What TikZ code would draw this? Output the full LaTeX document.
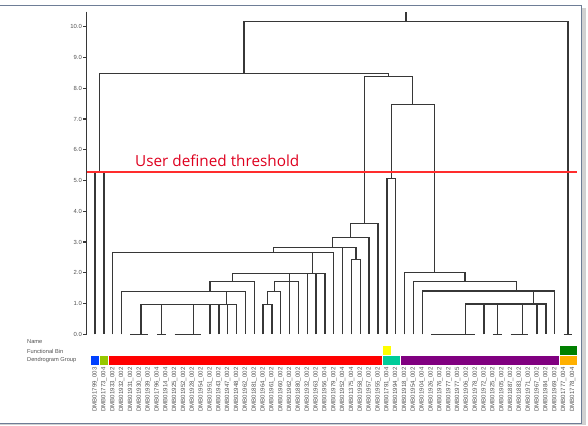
\documentclass[tikz,border=0pt]{standalone}
\usepackage{fontspec}
\setmainfont{Liberation Sans}
\newfontfamily\thrfont{Open Sans}
\definecolor{dgray}{RGB}{55,55,55}
\definecolor{thrred}{RGB}{255,45,45}
\definecolor{thrtext}{RGB}{222,0,30}
\definecolor{cblue}{RGB}{0,64,255}
\definecolor{cgreenl}{RGB}{150,200,0}
\definecolor{cred}{RGB}{255,0,0}
\definecolor{cteal}{RGB}{0,204,153}
\definecolor{cpurple}{RGB}{128,0,128}
\definecolor{corange}{RGB}{255,176,0}
\definecolor{cyellow}{RGB}{255,255,0}
\definecolor{cdgreen}{RGB}{0,128,0}
\definecolor{labgray}{RGB}{80,80,80}
\definecolor{framec}{RGB}{110,125,150}
\begin{document}
\begin{tikzpicture}[x=1pt,y=-1pt,
  dl/.style={draw=dgray,line width=1.35pt},
  axisline/.style={draw=dgray,line width=1.1pt},
  ticklab/.style={text=labgray,font=\fontsize{5.9}{6}\selectfont,inner sep=0pt},
  rowlab/.style={text=labgray,font=\fontsize{5.7}{6}\selectfont,inner sep=0pt,anchor=west},
  leaflab/.style={text=labgray,font=\fontsize{6.1}{6}\selectfont,inner sep=0pt,rotate=90,anchor=east},
  cell/.style={draw=white,line width=0.6pt}]
\useasboundingbox (0,0) rectangle (588,425);
% frame
\fill[black!18] (581,8) rectangle (586,425);
\fill[black!18] (0,423) rectangle (586,425);
\draw[framec,line width=1pt] (-2,5.7) -- (581,5.7) -- (581,423) -- (-2,423);
% leaf coordinates
\foreach \i in {1,...,55} { \coordinate (L\i) at ({86.28+8.84*\i},334.3); }
% levels
\coordinate (hA) at (0,304.3);
\coordinate (hB) at (0,291.7);
\coordinate (hC) at (0,281.7);
\coordinate (hD) at (0,273.3);
\coordinate (hE) at (0,252.7);
\coordinate (hF) at (0,247.3);
\coordinate (hG) at (0,237.7);
\coordinate (hH) at (0,223.3);
\coordinate (hI) at (0,76.7);
\coordinate (hJ) at (0,73.3);
\coordinate (hK) at (0,21.7);
\coordinate (hT) at (0,12.3);
\coordinate (b12) at (0,172.3);
\coordinate (b3031) at (0,259.3);
\coordinate (b3435) at (0,178.3);
\coordinate (hL) at (0,104.3);
\coordinate (hM) at (0,272.7);
\coordinate (hN) at (0,281.7);
\coordinate (hO) at (0,291);
\coordinate (hP) at (0,304);
% zero-height group centres
\coordinate (G1) at (141,334.3);
\coordinate (G2) at (161.4,334.3);
\coordinate (G3) at (193.3,334.3);
\coordinate (G4) at (465.7,334.3);
\coordinate (G5) at (497.3,334.3);
\coordinate (G6) at (522.3,334.3);
\coordinate (G7) at (568.06,334.3);
% zero-height bars
\draw[dl] (L5) -- (L7);
\draw[dl] (L8) -- (L9);
\draw[dl] (L10) -- (L13);
\draw[dl] (L39) -- (L44);
\draw[dl] (L46) -- (L47);
\draw[dl] (L48) -- (L50);
\draw[dl] (L54) -- (L55);
% left low cluster
\draw[dl] (G1) -- (G1 |- hA) -- (L17 |- hA) -- (L17);
\foreach \c in {G2,G3,L14,L15,L16} { \draw[dl] (\c) -- (\c |- hA); }
\coordinate (sA) at (226.7,0);
\draw[dl] (sA |- hA) -- (sA |- hB);
\draw[dl] (L4) -- (L4 |- hB) -- (L18 |- hB) -- (L18);
\coordinate (sB) at (210,0);
\draw[dl] (sB |- hB) -- (sB |- hC) -- (L19 |- hC) -- (L19);
\coordinate (sC) at (232.5,0);
\draw[dl] (sC |- hC) -- (sC |- hD) -- (L27 |- hD) -- (L27);
\foreach \c in {L23,L25,L26} { \draw[dl] (\c) -- (\c |- hD); }
\draw[dl] (L20) -- (L20 |- hA) -- (L21 |- hA) -- (L21);
\coordinate (s2021) at (267.5,0);
\draw[dl] (s2021 |- hA) -- (s2021 |- hB) -- (L22 |- hB) -- (L22);
\coordinate (s22) at (274.3,0);
\draw[dl] (s22 |- hB) -- (s22 |- hC) -- (L24 |- hC) -- (L24);
\coordinate (sD) at (312.7,0);
\draw[dl] (sD |- hD) -- (sD |- hE);
\draw[dl] (L3) -- (L3 |- hE) -- (L28 |- hE) -- (L28);
\coordinate (sE) at (273.3,0);
\coordinate (s3031) at (355.9,0);
\draw[dl] (sE |- hE) -- (sE |- hF) -- (s3031 |- hF) -- (s3031 |- b3031);
\draw[dl] (L29) -- (L29 |- hF);
\draw[dl] (L30) -- (L30 |- b3031) -- (L31 |- b3031) -- (L31);
\coordinate (sF) at (332.3,0);
\draw[dl] (sF |- hF) -- (sF |- hG) -- (L32 |- hG) -- (L32);
\coordinate (sG) at (350.7,0);
\draw[dl] (sG |- hG) -- (sG |- hH) -- (L33 |- hH) -- (L33);
\coordinate (sH) at (364.3,0);
\coordinate (sL) at (412.7,0);
\draw[dl] (sH |- hH) -- (sH |- hI) -- (sL |- hI) -- (sL |- hL);
\coordinate (s12) at (99.54,0);
\coordinate (sI) at (388.5,0);
\draw[dl] (sI |- hI) -- (sI |- hJ) -- (s12 |- hJ) -- (s12 |- b12);
\draw[dl] (L1) -- (L1 |- b12) -- (L2 |- b12) -- (L2);
% root
\coordinate (sJ) at (244,0);
\coordinate (sR) at (406,0);
\draw[dl] (sJ |- hJ) -- (sJ |- hK) -- (G7 |- hK) -- (G7);
\draw[dl] (sR |- hK) -- (sR |- hT);
% right branch
\coordinate (s3435) at (391.26,0);
\coordinate (sM) at (434.3,0);
\draw[dl] (s3435 |- b3435) -- (s3435 |- hL) -- (sM |- hL) -- (sM |- hM);
\draw[dl] (L34) -- (L34 |- b3435) -- (L35 |- b3435) -- (L35);
\coordinate (sN) at (465,0);
\draw[dl] (L36) -- (L36 |- hM) -- (sN |- hM) -- (sN |- hN);
\coordinate (sO) at (516.7,0);
\draw[dl] (L37) -- (L37 |- hN) -- (sO |- hN) -- (sO |- hO);
\draw[dl] (L38) -- (L38 |- hO) -- (L53 |- hO) -- (L53);
\coordinate (sP) at (533.3,0);
\draw[dl] (sP |- hO) -- (sP |- hP);
\draw[dl] (G4) -- (G4 |- hP) -- (L52 |- hP) -- (L52);
\foreach \c in {L45,G5,G6,L51} { \draw[dl] (\c) -- (\c |- hP); }
% axis
\coordinate (axT) at (86.7,11.7);
\coordinate (axB) at (86.7,334.8);
\draw[axisline] (axT) -- (axB);
\foreach \v in {0,...,10} {
  \draw[axisline] (83.4,{334.3-30.76*\v}) -- (86.7,{334.3-30.76*\v});
  \node[ticklab,anchor=east] (t\v) at (82,{334.3-30.76*\v}) {\v.0};
}
% threshold
\coordinate (thL) at (86.7,172);
\coordinate (thR) at (576.7,172);
\draw[thrred,line width=1.1pt] (thL) -- (thR);
\node[anchor=base west,inner sep=0pt,text=thrtext,font=\thrfont\fontsize{15.3}{16}\selectfont] (thtext) at (135,166.5) {User defined threshold};
% row labels
\node[rowlab] (rName) at (27,342) {Name};
\node[rowlab] (rBin) at (27,351) {Functional Bin};
\node[rowlab] (rGroup) at (27,360) {Dendrogram Group};
% colour cells
\fill[cell,fill=cblue] (90.70,355.2) rectangle (99.54,365.6);
\fill[cell,fill=cgreenl] (99.54,355.2) rectangle (108.38,365.6);
\fill[cell,fill=cred] (108.38,355.2) rectangle (382.42,365.6);
\fill[cell,fill=cteal] (382.42,355.2) rectangle (400.10,365.6);
\fill[cell,fill=cpurple] (400.10,355.2) rectangle (559.22,365.6);
\fill[cell,fill=corange] (559.22,355.2) rectangle (576.90,365.6);
\fill[cell,fill=cyellow] (382.42,345.4) rectangle (391.26,355.2);
\fill[cell,fill=cdgreen] (559.22,345.4) rectangle (576.90,355.2);
% leaf labels
\foreach \i/\t in {1/DMB01799\_003,2/DMB01773\_004,3/DMB01933\_002,4/DMB01932\_002,5/DMB01931\_002,
 6/DMB01930\_002,7/DMB01939\_002,8/DMB01796\_004,9/DMB01914\_004,10/DMB01925\_002,
 11/DMB01952\_002,12/DMB01928\_002,13/DMB01954\_002,14/DMB01951\_002,15/DMB01943\_002,
 16/DMB01947\_002,17/DMB01948\_002,18/DMB01962\_002,19/DMB01881\_002,20/DMB01964\_002,
 21/DMB01961\_002,22/DMB01960\_002,23/DMB01962\_002,24/DMB01880\_002,25/DMB01932\_002,
 26/DMB01963\_002,27/DMB01956\_004,28/DMB01979\_002,29/DMB01952\_004,30/DMB01375\_004,
 31/DMB01958\_002,32/DMB01957\_002,33/DMB01955\_002,34/DMB01791\_004,35/DMB01994\_002,
 36/DMB01918\_002,37/DMB01954\_002,38/DMB01904\_004,39/DMB01926\_002,40/DMB01976\_002,
 41/DMB01977\_002,42/DMB01977\_005,43/DMB01906\_002,44/DMB01978\_002,45/DMB01972\_002,
 46/DMB01925\_002,47/DMB01905\_002,48/DMB01887\_002,49/DMB01883\_002,50/DMB01971\_002,
 51/DMB01967\_002,52/DMB01984\_002,53/DMB01969\_002,54/DMB01777\_004,55/DMB01778\_004} {
  \node[leaflab] (n\i) at ({86.28+8.84*\i},367.3) {\t};
}
\end{tikzpicture}
\end{document}
